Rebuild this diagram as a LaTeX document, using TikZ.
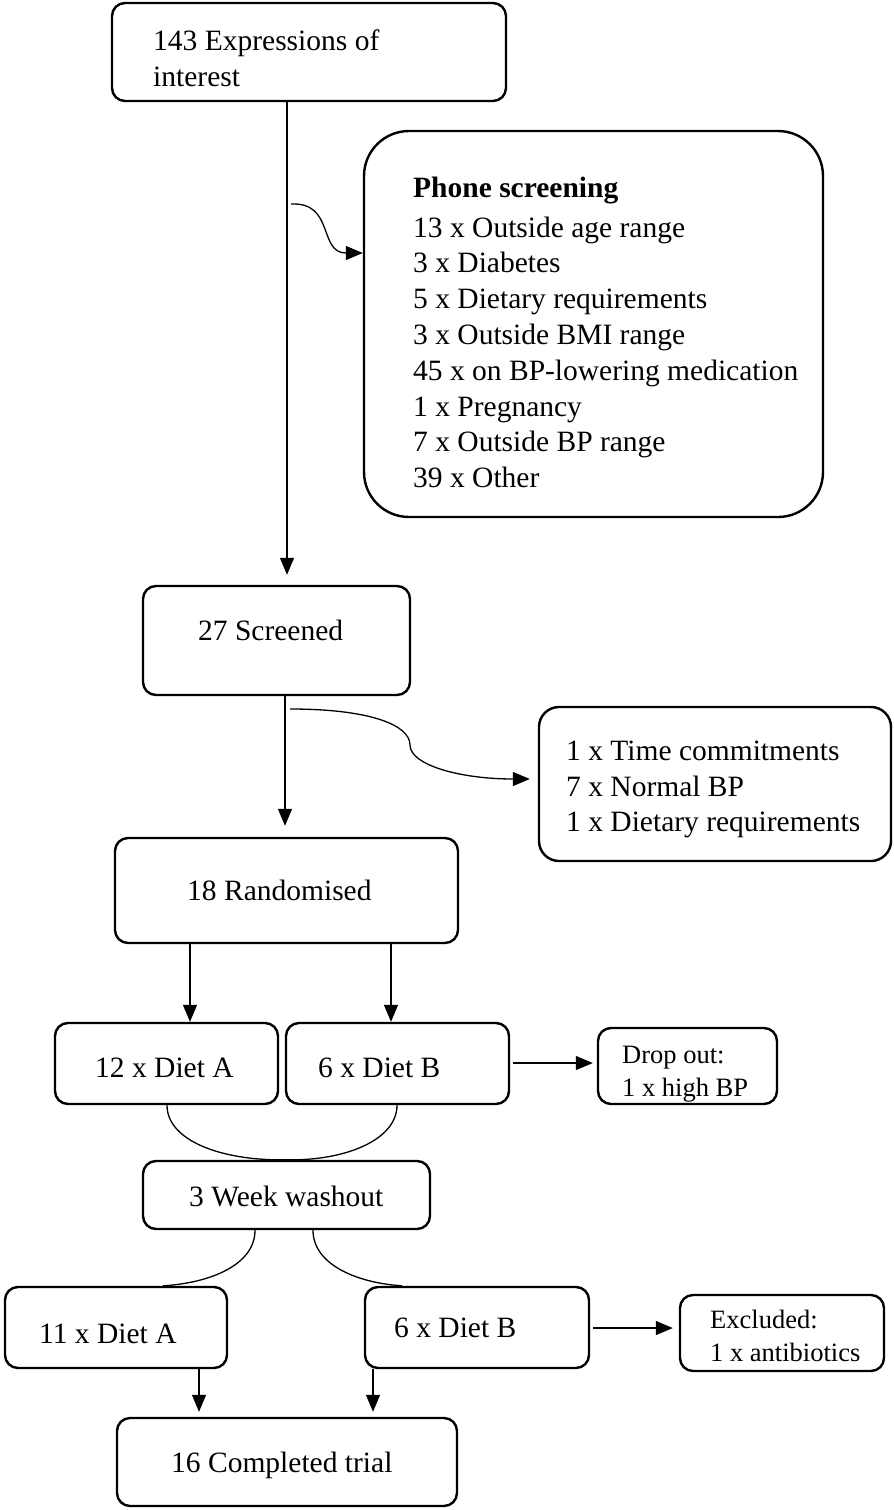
\documentclass[tikz,border=0pt]{standalone}
\usepackage{fontspec}
\setmainfont{Liberation Serif}
\usetikzlibrary{arrows.meta}
\tikzset{
  box/.style={draw, line width=2.4pt, rounded corners=13pt, inner sep=0pt},
  txt/.style={inner sep=0pt, font=\fontsize{29.5}{35.8}\selectfont},
  txtm/.style={inner sep=0pt, align=left, anchor=north west, font=\fontsize{29.5}{35.8}\selectfont},
  txts/.style={inner sep=0pt, align=left, anchor=north west, font=\fontsize{26.5}{33.5}\selectfont},
  conn/.style={line width=1.3pt},
  arr/.style={line width=1.3pt, -{Triangle[length=17pt,width=14pt]}}
}
\begin{document}
\begin{tikzpicture}[x=1pt,y=-1pt]
\useasboundingbox (0,0) rectangle (894,1510);
% boxes
\node[box, minimum width=394pt, minimum height=98pt] (expr) at (309,52) {};
\node[box, rounded corners=45pt, minimum width=459pt, minimum height=386pt] (phone) at (593.5,324) {};
\node[box, minimum width=267pt, minimum height=109pt] (scr) at (276.5,640.5) {};
\node[box, rounded corners=20pt, minimum width=352pt, minimum height=154pt] (ex2) at (715,784) {};
\node[box, minimum width=343pt, minimum height=105pt] (rand) at (286.5,890.5) {};
\node[box, minimum width=223pt, minimum height=81pt] (dA) at (166.5,1063.5) {};
\node[box, minimum width=223pt, minimum height=81pt] (dB) at (397.5,1063.5) {};
\node[box, minimum width=179pt, minimum height=76pt] (drop) at (687.5,1066) {};
\node[box, minimum width=287pt, minimum height=68pt] (wash) at (286.5,1195) {};
\node[box, minimum width=222pt, minimum height=81pt] (dAb) at (116,1327.5) {};
\node[box, minimum width=224pt, minimum height=81pt] (dBb) at (477,1327.5) {};
\node[box, minimum width=204pt, minimum height=76pt] (excl) at (782,1333) {};
\node[box, minimum width=340pt, minimum height=88pt] (comp) at (287,1462) {};
% texts
\node[txtm] (texpr) at (153,25) {\strut 143 Expressions of\\interest};
\node[txtm] (tphone) at (413,172) {\strut\textbf{Phone screening}\\[4pt]
13 x Outside age range\\3 x Diabetes\\5 x Dietary requirements\\3 x Outside BMI range\\
45 x on BP-lowering medication\\1 x Pregnancy\\7 x Outside BP range\\39 x Other};
\node[txt, anchor=base west] (tscr) at (198,640) {27 Screened};
\node[txtm] (tex2) at (566,735) {\strut 1 x Time commitments\\7 x Normal BP\\1 x Dietary requirements};
\node[txt, anchor=base west] (trand) at (187,900) {18 Randomised};
\node[txt, anchor=base west] (tdA) at (95,1077) {12 x Diet A};
\node[txt, anchor=base west] (tdB) at (318,1077) {6 x Diet B};
\node[txts] (tdrop) at (622,1039.5) {\strut Drop out:\\1 x high BP};
\node[txt, anchor=base west] (twash) at (189,1206) {3 Week washout};
\node[txt, anchor=base west] (tdAb) at (39,1343) {11 x Diet A};
\node[txt, anchor=base west] (tdBb) at (394,1337) {6 x Diet B};
\node[txts] (texcl) at (710,1304.5) {\strut Excluded:\\1 x antibiotics};
\node[txt, anchor=base west] (tcomp) at (171,1472) {16 Completed trial};
% connectors
\coordinate (c1) at (291,204);
\coordinate (c2) at (290,709);
\draw[arr, shorten >=10pt] (287,0 |- expr.south) -- (287,0 |- scr.north);
\draw[arr] (c1) .. controls (335,202) and (318,253) .. (phone.west |- 0,253);
\draw[arr, shorten >=11pt] (285,0 |- scr.south) -- (285,0 |- rand.north);
\draw[arr, shorten >=8pt] (c2) .. controls (370,709) and (410,725) .. (410,745)
   .. controls (410,765) and (460,779) .. (ex2.west |- 0,779);
\draw[arr] (190,0 |- rand.south) -- (190,0 |- dA.north);
\draw[arr] (391,0 |- rand.south) -- (391,0 |- dB.north);
\draw[arr, shorten <=3pt, shorten >=4pt] (dB.east |- 0,1063) -- (drop.west |- 0,1063);
\draw[conn] (167,0 |- dA.south) .. controls (167,1140) and (220,1161) .. (wash.north)
   .. controls (345,1161) and (397,1140) .. (397,0 |- dB.south);
\draw[conn] (255,0 |- wash.south) .. controls (255,1265) and (210,1283) .. (163,0 |- dAb.north);
\draw[conn] (313,0 |- wash.south) .. controls (313,1265) and (358,1283) .. (402,0 |- dBb.north);
\draw[arr, shorten <=3pt, shorten >=6pt] (dBb.east |- 0,1328) -- (excl.west |- 0,1328);
\draw[arr, shorten >=5pt] (199,0 |- dAb.south) -- (199,0 |- comp.north);
\draw[arr, shorten >=5pt] (373,0 |- dBb.south) -- (373,0 |- comp.north);
\end{tikzpicture}
\end{document}
